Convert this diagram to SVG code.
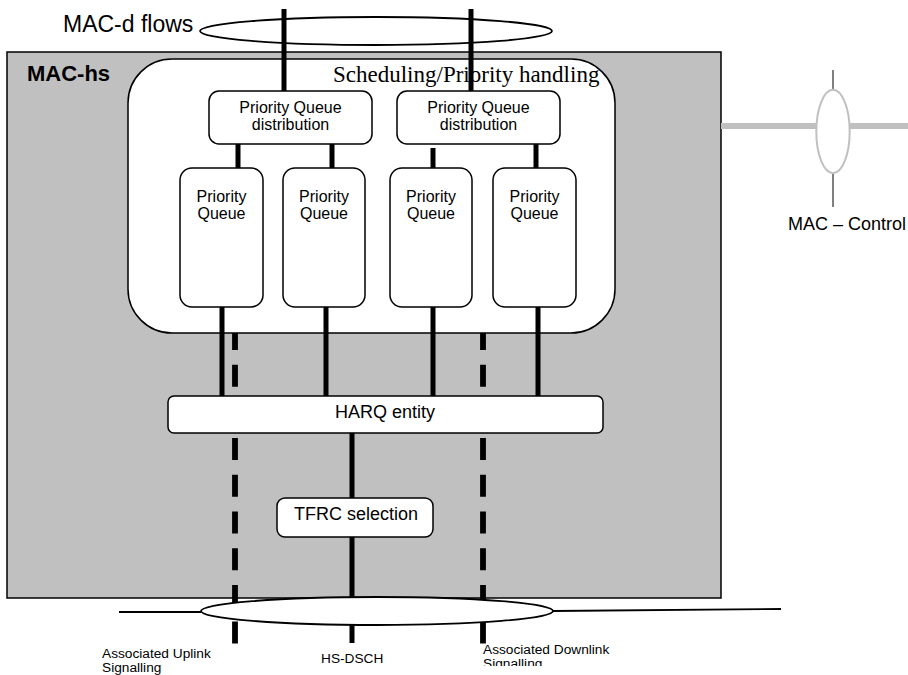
<svg xmlns="http://www.w3.org/2000/svg" width="908" height="675" viewBox="0 0 908 675">
<defs>
<style>
text{font-family:"Liberation Sans",Arial,sans-serif;fill:#000}
.box{fill:#fff;stroke:#000;stroke-width:1.5}
.thick{stroke:#000;stroke-width:5;fill:none}
.dash{stroke:#000;stroke-width:5.8;fill:none;stroke-dasharray:22 14.7;stroke-dashoffset:5}
.thin{stroke:#000;stroke-width:1.8;fill:none}
.lbl16{font-size:16px;text-anchor:middle}
.lbl18{font-size:18px;text-anchor:middle}
.small{font-size:13.7px}
</style>
<clipPath id="clipDL"><rect x="470" y="636" width="240" height="30"/></clipPath>
</defs>
<rect width="908" height="675" fill="#fff"/>

<g id="mac-hs">
<rect x="7" y="52" width="714" height="546" fill="#c0c0c0" stroke="#000" stroke-width="1.5"/>
<text x="27" y="81" font-size="22" font-weight="bold">MAC-hs</text>
</g>

<g id="scheduling">
<rect x="128" y="59" width="487" height="274" rx="44" ry="44" class="box"/>
<text x="333" y="82" font-size="23" style="font-family:'Liberation Serif','Times New Roman',serif">Scheduling/Priority handling</text>
</g>

<g id="mac-d-flows">
<text x="63" y="32" font-size="23">MAC-d flows</text>
</g>

<g id="mac-control">
<line x1="721" y1="126" x2="908" y2="126" stroke="#c0c0c0" stroke-width="6"/>
<line x1="833" y1="70" x2="833" y2="90" stroke="#000" stroke-width="1"/>
<line x1="833" y1="173" x2="833" y2="207" stroke="#000" stroke-width="1"/>
<ellipse cx="833" cy="131.5" rx="16.7" ry="41.7" fill="#fff" stroke="#c0c0c0" stroke-width="2"/>
<text x="788" y="230" font-size="18">MAC – Control</text>
</g>

<g id="connectors">
<line x1="284" y1="9" x2="284" y2="91" class="thick"/>
<line x1="471" y1="9" x2="471" y2="91" class="thick"/>
<line x1="238" y1="144" x2="238" y2="168" class="thick"/>
<line x1="332" y1="144" x2="332" y2="168" class="thick"/>
<line x1="433" y1="148" x2="433" y2="172" class="thick"/>
<line x1="536" y1="144" x2="536" y2="168" class="thick"/>
<line x1="222" y1="307" x2="222" y2="396" class="thick"/>
<line x1="326" y1="307" x2="326" y2="396" class="thick"/>
<line x1="433" y1="307" x2="433" y2="396" class="thick"/>
<line x1="538" y1="307" x2="538" y2="396" class="thick"/>
<line x1="235" y1="333" x2="235" y2="644" class="dash"/>
<line x1="483" y1="333" x2="483" y2="644" class="dash"/>
<line x1="352" y1="433" x2="352" y2="643" class="thick"/>
<line x1="119" y1="612" x2="201" y2="612" class="thin"/>
<line x1="553" y1="611" x2="781" y2="609" class="thin"/>
</g>

<g id="mac-d-ellipse">
<ellipse cx="376" cy="31" rx="176" ry="14" fill="none" stroke="#000" stroke-width="1.8"/>
</g>

<g id="pqd1">
<rect x="209" y="91" width="163" height="53" rx="10" class="box"/>
<text x="290.5" y="113" class="lbl16">Priority Queue</text>
<text x="290.5" y="130" class="lbl16">distribution</text>
</g>
<g id="pqd2">
<rect x="397" y="91" width="163" height="53" rx="10" class="box"/>
<text x="478.5" y="113" class="lbl16">Priority Queue</text>
<text x="478.5" y="130" class="lbl16">distribution</text>
</g>

<g id="pq1">
<rect x="180" y="168" width="83" height="139" rx="12" class="box"/>
<text x="221.5" y="202" class="lbl16">Priority</text>
<text x="221.5" y="219" class="lbl16">Queue</text>
</g>
<g id="pq2">
<rect x="283" y="168" width="82" height="139" rx="12" class="box"/>
<text x="324" y="202" class="lbl16">Priority</text>
<text x="324" y="219" class="lbl16">Queue</text>
</g>
<g id="pq3">
<rect x="390" y="168" width="82" height="139" rx="12" class="box"/>
<text x="431" y="202" class="lbl16">Priority</text>
<text x="431" y="219" class="lbl16">Queue</text>
</g>
<g id="pq4">
<rect x="493" y="168" width="83" height="139" rx="12" class="box"/>
<text x="534.5" y="202" class="lbl16">Priority</text>
<text x="534.5" y="219" class="lbl16">Queue</text>
</g>

<g id="harq">
<rect x="168" y="396" width="435" height="37" rx="6" class="box"/>
<text x="385" y="418" class="lbl18">HARQ entity</text>
</g>

<g id="tfrc">
<rect x="277" y="498" width="156" height="39" rx="8" class="box"/>
<text x="356" y="520" class="lbl18">TFRC selection</text>
</g>

<g id="transport-ellipse">
<ellipse cx="377" cy="611" rx="176" ry="14" fill="#fff" stroke="#000" stroke-width="1.8"/>
</g>

<g id="labels">
<text x="102" y="658" class="small">Associated Uplink</text>
<text x="102" y="672" class="small">Signalling</text>
<text x="321" y="663" class="small">HS-DSCH</text>
<text x="483" y="654" class="small">Associated Downlink</text>
<text x="483" y="668" class="small" clip-path="url(#clipDL)">Signalling</text>
</g>
</svg>
